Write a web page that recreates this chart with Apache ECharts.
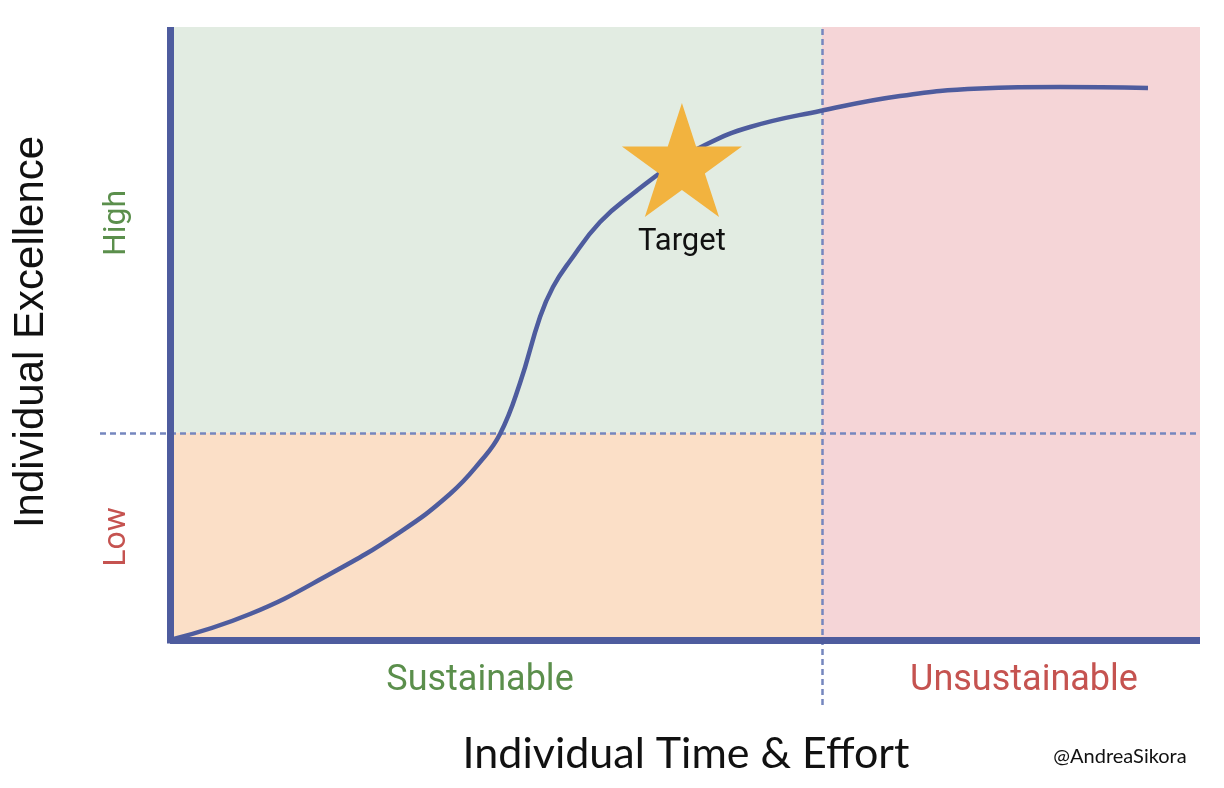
<!DOCTYPE html>
<html>
<head>
<meta charset="utf-8">
<title>Individual Excellence vs Time &amp; Effort</title>
<script src="https://cdn.jsdelivr.net/npm/echarts@6/dist/echarts.min.js"></script>
<style>
  html, body { margin: 0; padding: 0; background: #ffffff; }
  #chart { width: 1224px; height: 788px; }
</style>
</head>
<body>
<div id="chart"></div>
<script>
// Effort (x) vs excellence (y) curve, in chart units
const effort     = [0, 7.77, 15.53, 22.33, 27.18, 30.10, 32.04, 33.98, 35.92, 37.18, 38.83, 41.75, 45.15, 48.54, 51.94, 56.31, 63.11, 70.87, 78.64, 86.41, 94.95];
const excellence = [0, 4.24, 10.77, 17.62, 23.82, 29.04, 33.60, 41.92, 52.69, 57.59, 61.83, 68.19, 73.08, 77.32, 80.75, 83.69, 86.30, 88.74, 89.97, 90.21, 90.05];

// Zone boundaries
const sustainLimit = 63.3;      // effort beyond this is unsustainable
const highThreshold = 33.8;     // excellence above this counts as high
const effortMax = 100;
const excellenceMax = 100;

// Axis ranges (negative part leaves room for the guide-line overhang)
const xRange = [-6.8, 100];
const yRange = [-10.6, 100];

// Target marker
const targetPoint = [49.7, 78.3];
const targetLabel = 'Target';

// Text labels
const yBandLabels = ['Low', 'High'];
const xBandLabels = ['Sustainable', 'Unsustainable'];
const yTitle = 'Individual Excellence';
const xTitle = 'Individual Time & Effort';
const credit = '@AndreaSikora';

const curveData = effort.map((x, i) => [x, excellence[i]]);

const AXIS_COLOR = '#4e5c9e';
const GUIDE_COLOR = '#7587bf';
const GREEN = '#5b8f4c';
const RED = '#c55350';

const starPath = 'path://M0,-100L22.45,-30.9L95.1,-30.9L36.33,11.8L58.8,80.9L0,38.2L-58.8,80.9L-36.33,11.8L-95.1,-30.9L-22.45,-30.9Z';

const chart = echarts.init(document.getElementById('chart'), null, { renderer: 'canvas' });

chart.setOption({
  animation: false,
  backgroundColor: '#ffffff',
  grid: { left: 100, right: 24, top: 27, bottom: 83, containLabel: false },
  xAxis: { type: 'value', min: xRange[0], max: xRange[1], show: false },
  yAxis: { type: 'value', min: yRange[0], max: yRange[1], show: false },
  series: [
    {
      // shaded zones
      type: 'line',
      data: [],
      silent: true,
      markArea: {
        silent: true,
        data: [
          [{ coord: [0, highThreshold], itemStyle: { color: '#e2ece2' } }, { coord: [sustainLimit, excellenceMax] }],
          [{ coord: [0, 0], itemStyle: { color: '#fbdfc7' } }, { coord: [sustainLimit, highThreshold] }],
          [{ coord: [sustainLimit, 0], itemStyle: { color: '#f5d5d7' } }, { coord: [effortMax, excellenceMax] }]
        ]
      }
    },
    {
      // dashed zone dividers
      type: 'line',
      data: [],
      silent: true,
      markLine: {
        silent: true,
        symbol: ['none', 'none'],
        label: { show: false },
        lineStyle: { color: GUIDE_COLOR, width: 2.5, type: [6, 4], opacity: 1 },
        data: [
          [{ coord: [sustainLimit, yRange[0]] }, { coord: [sustainLimit, excellenceMax] }],
          [{ coord: [xRange[0], highThreshold] }, { coord: [effortMax - 0.2, highThreshold] }]
        ]
      }
    },
    {
      type: 'line',
      data: curveData,
      smooth: 0.45,
      showSymbol: false,
      symbol: 'none',
      silent: true,
      z: 6,
      lineStyle: { color: AXIS_COLOR, width: 4.5 }
    },
    {
      // axis lines
      type: 'line',
      data: [],
      silent: true,
      markLine: {
        silent: true,
        z: 7,
        symbol: ['none', 'none'],
        label: { show: false },
        lineStyle: { color: AXIS_COLOR, width: 7, type: 'solid', opacity: 1 },
        data: [
          [{ coord: [0, -0.57] }, { coord: [0, excellenceMax] }],
          [{ coord: [0, 0] }, { coord: [effortMax, 0] }]
        ]
      }
    },
    {
      type: 'scatter',
      data: [targetPoint],
      symbol: starPath,
      symbolSize: [120, 114],
      silent: true,
      z: 10,
      itemStyle: { color: '#f2b33f', opacity: 1 },
      label: {
        show: true,
        position: 'bottom',
        distance: 10,
        formatter: targetLabel,
        color: '#111111',
        opacity: 1,
        fontFamily: 'Roboto',
        fontSize: 31
      }
    }
  ],
  graphic: [
    { type: 'text', x: 31, y: 332, rotation: Math.PI / 2,
      style: { text: yTitle, fill: '#111111', fontFamily: 'Liberation Sans', fontSize: 42, align: 'center', verticalAlign: 'middle' } },
    { type: 'text', x: 117, y: 223, rotation: Math.PI / 2,
      style: { text: yBandLabels[1], fill: GREEN, fontFamily: 'Roboto', fontSize: 32, align: 'center', verticalAlign: 'middle' } },
    { type: 'text', x: 117, y: 537, rotation: Math.PI / 2,
      style: { text: yBandLabels[0], fill: RED, fontFamily: 'Roboto', fontSize: 32, align: 'center', verticalAlign: 'middle' } },
    { type: 'text', x: 480, y: 681,
      style: { text: xBandLabels[0], fill: GREEN, fontFamily: 'Roboto', fontSize: 36, align: 'center', verticalAlign: 'middle' } },
    { type: 'text', x: 1024, y: 681,
      style: { text: xBandLabels[1], fill: RED, fontFamily: 'Roboto', fontSize: 36, align: 'center', verticalAlign: 'middle' } },
    { type: 'text', x: 686, y: 754,
      style: { text: xTitle, fill: '#111111', fontFamily: 'Lato', fontSize: 43, align: 'center', verticalAlign: 'middle' } },
    { type: 'text', x: 1120, y: 757,
      style: { text: credit, fill: '#111111', fontFamily: 'Lato', fontSize: 20, align: 'center', verticalAlign: 'middle' } }
  ]
});
</script>
</body>
</html>
